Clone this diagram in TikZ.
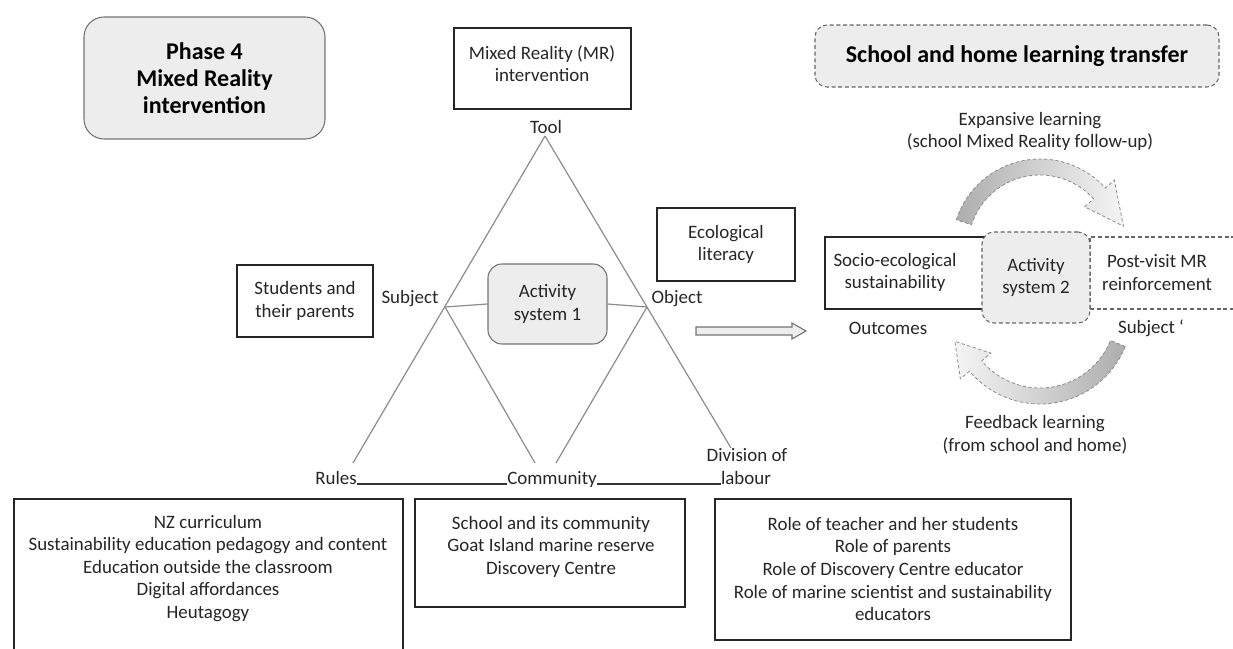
\documentclass[tikz,border=0pt]{standalone}
\usepackage{fontspec}
\setmainfont{Carlito}
\usetikzlibrary{arrows.meta}
\definecolor{txt}{HTML}{262626}
\definecolor{boxfill}{HTML}{EDEDED}
\definecolor{lineg}{HTML}{8C8C8C}
\tikzset{
  reg/.style={font=\fontsize{14.2}{16.9}\selectfont, text=txt, align=center, inner sep=0pt},
  hd/.style={font=\fontsize{18}{20.25}\selectfont\bfseries, text=black, align=center, inner sep=0pt},
  plainbox/.style={draw=black!85, line width=1pt, fill=white, inner sep=0pt},
  greybox/.style={draw=black!55, line width=0.8pt, fill=boxfill, inner sep=0pt},
  dashbox/.style={draw=black!60, line width=0.8pt, dashed, dash pattern=on 3pt off 2pt, inner sep=0pt},
  tri/.style={draw=lineg, line width=0.9pt},
  uline/.style={draw=black!80, line width=0.8pt},
  curvearrow/.style={draw=black!45, line width=0.6pt, dash pattern=on 2.5pt off 1.8pt},
  blockarrow/.style={draw=black!55, line width=0.8pt, fill=boxfill}
}
\begin{document}
\begin{tikzpicture}[x=0.75pt,y=-0.75pt]
\useasboundingbox (0,0) rectangle (1233,649);
\clip (0,0) rectangle (1233,649);

% ---------- top-left heading ----------
\node[greybox, rounded corners=15pt, minimum width=180.75pt, minimum height=91.5pt, hd]
  (phase) at (204.5,78) {Phase 4\\Mixed Reality\\intervention};

% ---------- tool ----------
\node[plainbox, minimum width=132.75pt, minimum height=60.75pt] (mrbox) at (542.5,68.5) {};
\node[reg] (mrtxt) at (542,63.5) {Mixed Reality (MR)\\intervention};
\node[reg] (tool) at (546,127) {Tool};

% ---------- triangle ----------
\coordinate (apex) at (545,136);
\coordinate (sv) at (445,307);
\coordinate (ov) at (647,307);
\coordinate (lend) at (353,463);
\coordinate (rend) at (731,448);
\coordinate (cl) at (535,463);
\coordinate (cr) at (556,463);
\draw[tri] (apex) -- (lend);
\draw[tri] (apex) -- (rend);
\draw[tri] (sv) -- (cl);
\draw[tri] (ov) -- (cr);

\node[greybox, rounded corners=10.5pt, minimum width=89.25pt, minimum height=60pt, reg]
  (act1) at (547.5,304) {Activity\\system 1};
\draw[tri] (sv) -- (act1.west);
\draw[tri] (act1.east) -- (ov);

\node[reg] (subject) at (410,299) {Subject};
\node[reg] (object) at (677,299) {Object};

\node[plainbox, minimum width=102pt, minimum height=54pt, reg]
  (students) at (305,301) {Students and\\their parents};
\node[plainbox, minimum width=103.5pt, minimum height=54.75pt, reg]
  (eco) at (726,244.5) {Ecological\\literacy};

% ---------- bottom labels ----------
\node[reg, anchor=base] (rules) at (336,484) {Rules};
\node[reg, anchor=base] (community) at (552,484) {Community};
\node[reg, anchor=base] (divA) at (747,461.5) {Division of};
\node[reg, anchor=base] (divB) at (746,484) {labour};
\draw[uline] (rules.base east) -- (community.base west);
\draw[uline] (community.base east) -- (divB.base west);

% ---------- bottom boxes ----------
\node[plainbox, minimum width=291.75pt, minimum height=128.25pt] (rulesbox) at (208.5,584.5) {};
\node[reg] (rulestxt) at (208,568.5) {NZ curriculum\\Sustainability education pedagogy and content\\Education outside the classroom\\Digital affordances\\Heutagogy};

\node[plainbox, minimum width=202.5pt, minimum height=81pt] (commbox) at (550,553) {};
\node[reg] (commtxt) at (551,546.5) {School and its community\\Goat Island marine reserve\\Discovery Centre};

\node[plainbox, minimum width=267pt, minimum height=105.75pt] (rolebox) at (893,569.5) {};
\node[reg] (roletxt) at (893,569) {Role of teacher and her students\\Role of parents\\Role of Discovery Centre educator\\Role of marine scientist and sustainability\\educators};

% ---------- transfer arrow ----------
\draw[blockarrow] (696,327) -- (792,327) -- (792,323) -- (806,331) -- (792,339) -- (792,335) -- (696,335) -- cycle;

% ---------- right side ----------
\node[dashbox, fill=boxfill, rounded corners=9pt, minimum width=303pt, minimum height=46.5pt, hd]
  (school) at (1017,56) {School and home learning transfer};
\node[reg] (expansive) at (1030,131.5) {Expansive learning\\(school Mixed Reality follow-up)};

\node[plainbox, minimum width=131.25pt, minimum height=54pt] (socio) at (912.5,273) {};
\node[reg] (sociotxt) at (895,272.5) {Socio-ecological\\sustainability};
\node[dashbox, fill=white, minimum width=127.5pt, minimum height=54pt] (post) at (1175,273) {};
\node[reg] (posttxt) at (1157,272.5) {Post-visit MR\\reinforcement};
\node[dashbox, fill=boxfill, rounded corners=9pt, minimum width=81pt, minimum height=68.25pt, reg]
  (act2) at (1036,277.5) {Activity\\system 2};

\node[reg] (outcomes) at (888,328) {Outcomes};
\node[reg] (subj2) at (1151,328) {Subject ‘};
\node[reg] (feedback) at (1035,434.5) {Feedback learning\\(from school and home)};

% curved arrows
\path[curvearrow, left color=black!32, middle color=black!10, right color=black!4, shift={(1040,247)}]
  (-162:88) arc[start angle=-162, end angle=-42, radius=88]
  -- (-42:100) -- (-14:86) -- (-42:60) -- (-42:72)
  arc[start angle=-42, end angle=-162, radius=72] -- cycle;
\path[curvearrow, left color=black!4, middle color=black!10, right color=black!32, shift={(1040,312)}]
  (22:92) arc[start angle=22, end angle=140, radius=92]
  -- (140:104) -- (161:90) -- (140:64) -- (140:76)
  arc[start angle=140, end angle=22, radius=76] -- cycle;
\end{tikzpicture}
\end{document}
